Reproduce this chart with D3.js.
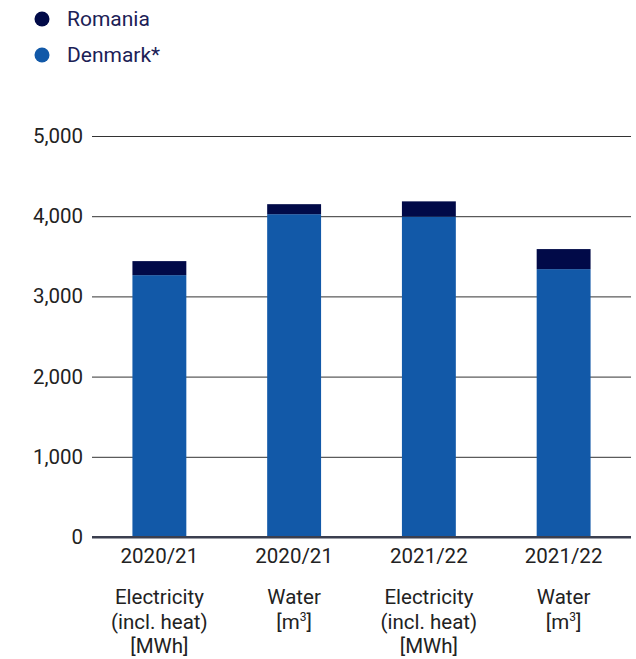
<!DOCTYPE html>
<html>
<head>
<meta charset="utf-8">
<script src="https://cdn.jsdelivr.net/npm/d3@7"></script>
<style>
  body { margin: 0; background: #fff; }
  text { font-family: Roboto, "Noto Sans", sans-serif; }
</style>
</head>
<body>
<div id="chart"></div>
<script>
// data
const years = ['2020/21', '2020/21', '2021/22', '2021/22'];
const labels = [
  ['Electricity', '(incl. heat)', '[MWh]'],
  ['Water', '[m³]'],
  ['Electricity', '(incl. heat)', '[MWh]'],
  ['Water', '[m³]']
];
const denmark = [3265, 4025, 3995, 3340];
const romania = [175, 125, 190, 250];
const yTicks = [0, 1000, 2000, 3000, 4000, 5000];

const colors = { Romania: '#010a48', 'Denmark*': '#1259a8' };

const width = 636, height = 659;
const margin = { top: 136, right: 5, bottom: 122, left: 92 };
const fs = 20.5;

const svg = d3.select('#chart').append('svg')
  .attr('width', width)
  .attr('height', height);

const idx = d3.range(years.length);

// x axis -------
const x = d3.scaleBand()
  .domain(idx)
  .range([margin.left, width - margin.right])
  .paddingInner(0.6)
  .paddingOuter(0.3);

// y axis
const y = d3.scaleLinear()
  .domain([0, 5000])
  .range([height - margin.bottom, margin.top]);

// grid + tick labels
const yAxis = svg.append('g')
  .attr('transform', `translate(${margin.left},0)`)
  .call(d3.axisLeft(y).tickValues(yTicks).tickFormat(d3.format(',')).tickSize(0).tickPadding(9));
yAxis.select('.domain').remove();
yAxis.selectAll('text').attr('font-size', fs).attr('fill', '#222');
yAxis.selectAll('.tick line')
  .attr('x2', width - margin.right - margin.left)
  .attr('stroke', d => d === 0 ? '#3b3f4f' : '#333')
  .attr('stroke-width', d => d === 0 ? 2 : 1);

// stacked bars
const rows = idx.map(i => ({ i, Denmark: denmark[i], Romania: romania[i] }));
const stack = d3.stack().keys(['Denmark', 'Romania'])(rows);
const fill = { Denmark: colors['Denmark*'], Romania: colors.Romania };

svg.append('g').selectAll('g')
  .data(stack)
  .join('g')
  .attr('fill', s => fill[s.key])
  .selectAll('rect')
  .data(s => s)
  .join('rect')
  .attr('x', d => x(d.data.i))
  .attr('width', x.bandwidth())
  .attr('y', d => y(d[1]))
  .attr('height', d => y(d[0]) - y(d[1]));

// redraw baseline over bars
svg.append('line')
  .attr('x1', margin.left).attr('x2', width - margin.right)
  .attr('y1', y(0)).attr('y2', y(0))
  .attr('stroke', '#3b3f4f').attr('stroke-width', 2);

// x labels
const xl = svg.append('g').selectAll('g')
  .data(idx)
  .join('g')
  .attr('transform', i => `translate(${x(i) + x.bandwidth() / 2},0)`);

xl.append('text')
  .attr('y', y(0) + 26)
  .attr('text-anchor', 'middle')
  .attr('font-size', fs)
  .attr('fill', '#222')
  .text(i => years[i]);

xl.each(function (i) {
  const g = d3.select(this);
  labels[i].forEach((t, k) => {
    const txt = g.append('text')
      .attr('y', y(0) + 67 + k * 24.5)
      .attr('text-anchor', 'middle')
      .attr('font-size', fs)
      .attr('fill', '#222');
    if (t === '[m³]') {
      txt.append('tspan').text('[m');
      txt.append('tspan').attr('font-size', 12).attr('dy', -8).text('3');
      txt.append('tspan').attr('dy', 8).text(']');
    } else {
      txt.text(t);
    }
  });
});

// legend
const legend = svg.append('g').selectAll('g')
  .data(Object.keys(colors))
  .join('g')
  .attr('transform', (d, i) => `translate(42,${19 + i * 36})`);
legend.append('circle').attr('r', 7.5).attr('fill', d => colors[d]);
legend.append('text')
  .attr('x', 25).attr('dy', '0.35em')
  .attr('font-size', 21)
  .attr('fill', '#1c2156')
  .text(d => d);
</script>
</body>
</html>
